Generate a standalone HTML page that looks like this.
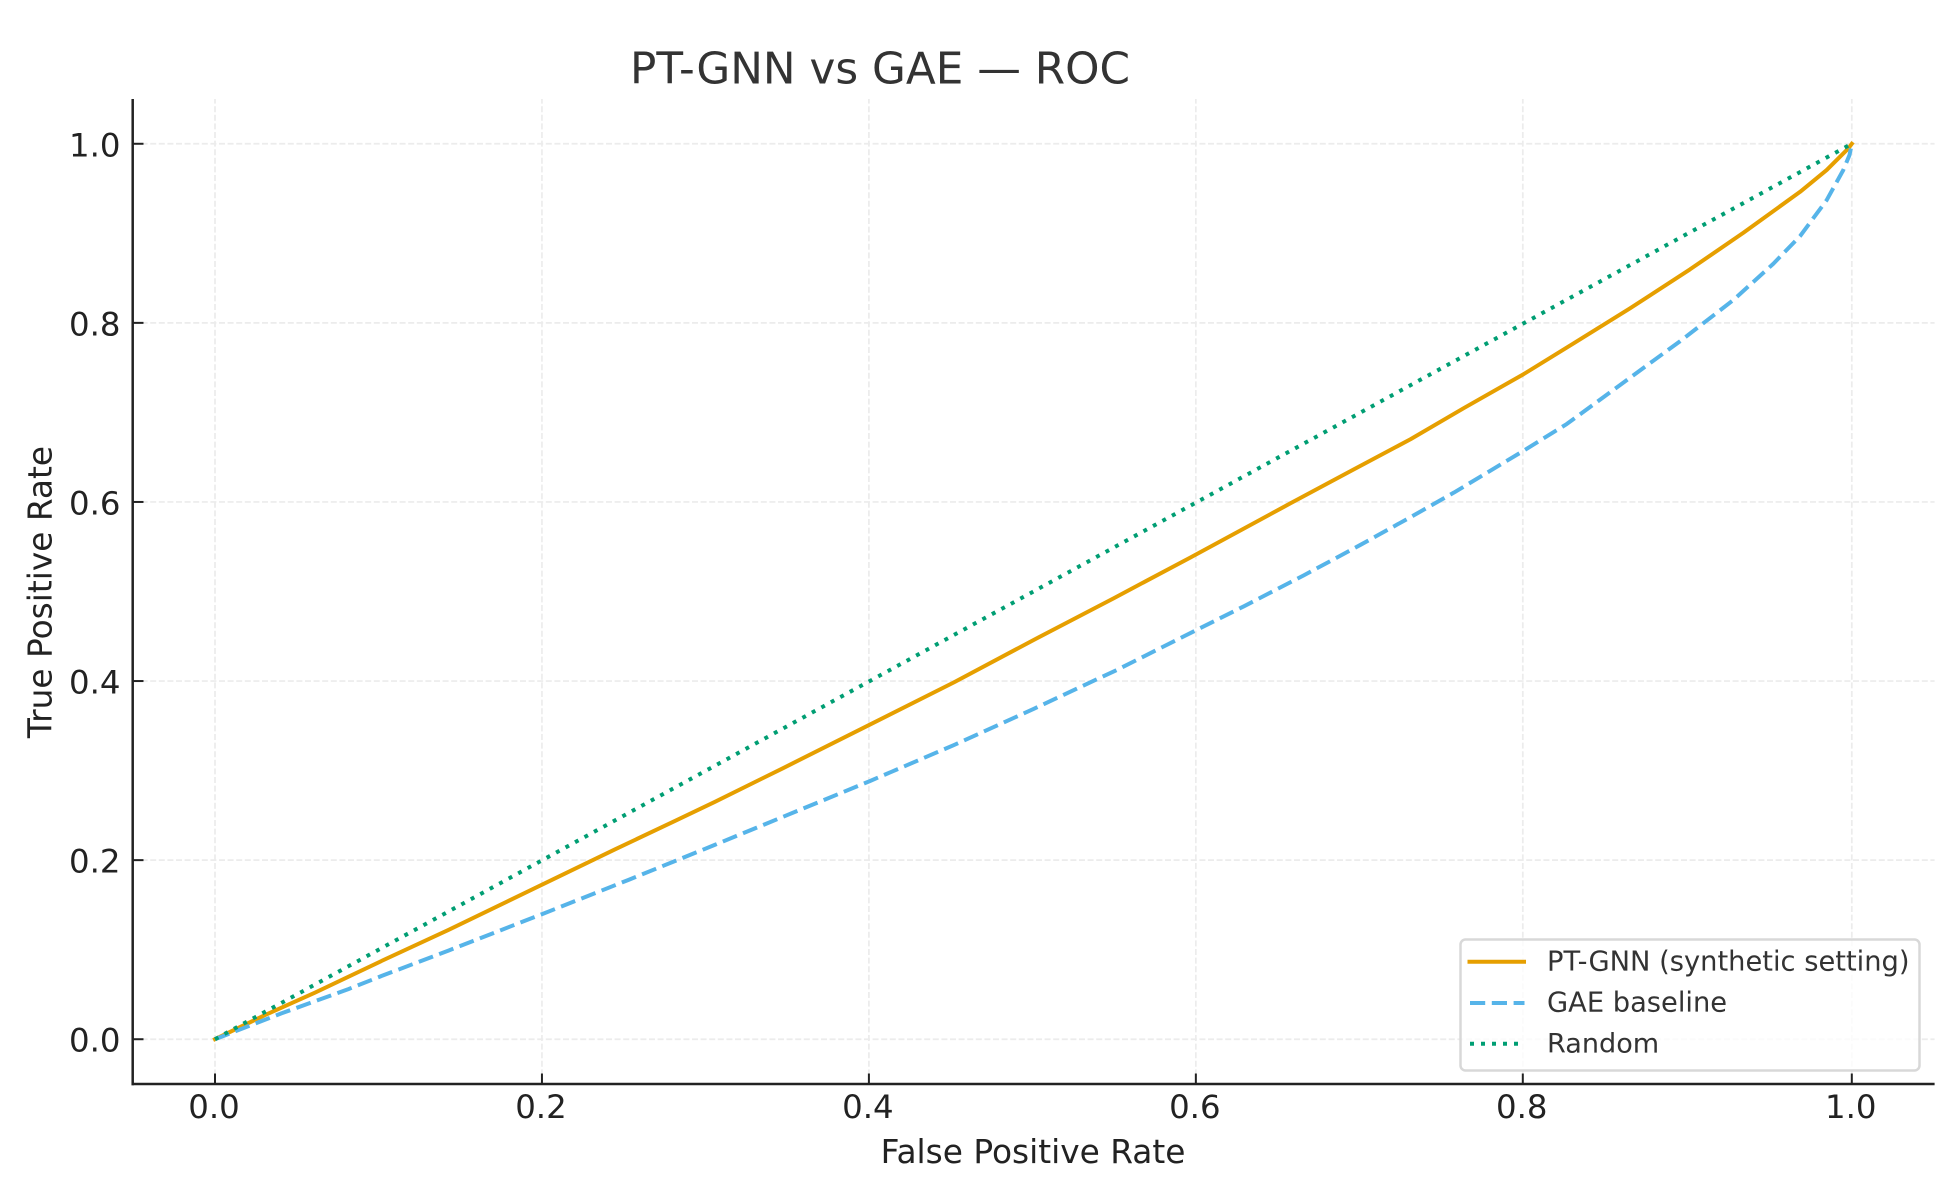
<!DOCTYPE html>
<html lang="en">
<head>
<meta charset="utf-8">
<title>PT-GNN vs GAE — ROC</title>
<style>
html,body{margin:0;padding:0;background:#fff;}
body{width:1957px;height:1193px;overflow:hidden;}
svg{display:block;}
text{font-family:"DejaVu Sans","Liberation Sans",sans-serif;}
</style>
</head>
<body>
<svg id="chart" xmlns="http://www.w3.org/2000/svg" width="1957" height="1193" viewBox="0 0 1957 1193">
  <rect x="0" y="0" width="1957" height="1193" fill="#fff"/>
  <g id="grid"></g>
  <g id="series"></g>
  <g id="axes"></g>
  <text x="630" y="83.3" font-size="43.7" fill="#333">PT-GNN vs GAE — ROC</text>
  <text x="1033" y="1163" font-size="32.8" fill="#222" text-anchor="middle">False Positive Rate</text>
  <text transform="translate(51.7 592) rotate(-90)" font-size="32.8" fill="#222" text-anchor="middle">True Positive Rate</text>
  <g>
    <rect x="1460.5" y="939.5" width="459" height="131" rx="5" ry="5" fill="#fff" fill-opacity="0.8" stroke="#d8d8d8" stroke-width="2.5"/>
    <g>
      <line x1="1469.5" y1="961.7" x2="1524" y2="961.7" stroke="#E69F00" stroke-width="4" stroke-linecap="square"/>
      <text x="1547" y="970.7" font-size="27.3" fill="#333">PT-GNN (synthetic setting)</text>
    </g>
    <g>
      <line x1="1470" y1="1003" x2="1524.5" y2="1003" stroke="#56B4E9" stroke-width="4" stroke-dasharray="15.2 6.6"/>
      <text x="1547" y="1011.7" font-size="27.3" fill="#333">GAE baseline</text>
    </g>
    <g>
      <line x1="1470" y1="1043.7" x2="1524.5" y2="1043.7" stroke="#009E73" stroke-width="4" stroke-dasharray="4 7"/>
      <text x="1547" y="1052.7" font-size="27.1" fill="#333">Random</text>
    </g>
  </g>
</svg>
<script>
const xTickValues = [0, 0.2, 0.4, 0.6, 0.8, 1.0];
const yTickValues = [0, 0.2, 0.4, 0.6, 0.8, 1.0];
const ptGnnFpr = [0, 0.0306, 0.0611, 0.102, 0.1428, 0.1784, 0.2005, 0.2446, 0.2817, 0.3057, 0.3478, 0.4002, 0.452, 0.5009, 0.5498, 0.5967, 0.6579, 0.6962, 0.7313, 0.7641, 0.8003, 0.8308, 0.8652, 0.9016, 0.9341, 0.9686, 0.9847, 0.9979, 1];
const ptGnnTpr = [0, 0.027, 0.052, 0.0875, 0.122, 0.1535, 0.173, 0.212, 0.244, 0.265, 0.303, 0.351, 0.3985, 0.446, 0.4925, 0.538, 0.5985, 0.636, 0.670, 0.705, 0.7425, 0.777, 0.8162, 0.8597, 0.9006, 0.9464, 0.9706, 0.9948, 1];
const gaeFpr = [0, 0.0408, 0.0816, 0.102, 0.1428, 0.2005, 0.253, 0.3057, 0.4002, 0.452, 0.5009, 0.5518, 0.6004, 0.6294, 0.666, 0.7006, 0.7313, 0.7579, 0.8003, 0.8267, 0.855, 0.8956, 0.9279, 0.9523, 0.9686, 0.9847, 0.9948, 0.9986, 1];
const gaeTpr = [0, 0.029, 0.056, 0.0707, 0.099, 0.14, 0.178, 0.217, 0.288, 0.3285, 0.369, 0.4125, 0.457, 0.4835, 0.518, 0.552, 0.583, 0.6105, 0.657, 0.687, 0.725, 0.7795, 0.8254, 0.866, 0.897, 0.937, 0.9706, 0.9874, 1];
const randomFpr = [0, 1];
const randomTpr = [0, 1];

const NS = 'http://www.w3.org/2000/svg';
const plotLeft = 133, plotRight = 1934.6, plotTop = 99, plotBottom = 1084;
const domainMin = -0.05, domainMax = 1.05;

// The reference's x axis has a slightly wider last tick interval.
function xScale(v) {
  if (v <= 0.8) return 215 + v * 1634.75;
  return 1522.8 + (v - 0.8) * 1645;
}
function yScale(v) {
  return plotBottom - (v - domainMin) / (domainMax - domainMin) * (plotBottom - plotTop);
}
function setAll(el, attrs) {
  Object.keys(attrs).forEach(function (k) { el.setAttribute(k, attrs[k]); });
  return el;
}

const gridGroup = document.getElementById('grid');
const seriesGroup = document.getElementById('series');
const axesGroup = document.getElementById('axes');
const gridStyle = { stroke: '#ececec', 'stroke-width': 1.7, 'stroke-dasharray': '6 2.6', fill: 'none' };

xTickValues.forEach(function (v) {
  const line = document.createElementNS(NS, 'line');
  
  
  setAll(line, gridStyle);
  setAll(line, { x1: xScale(v), x2: xScale(v), y1: plotBottom, y2: plotTop });
  gridGroup.appendChild(line);
});
yTickValues.forEach(function (v) {
  const line = document.createElementNS(NS, 'line');
  
  
  setAll(line, gridStyle);
  setAll(line, { x1: plotLeft, x2: plotRight, y1: yScale(v), y2: yScale(v) });
  gridGroup.appendChild(line);
});

function linePoints(xs, ys) {
  return xs.map(function (x, i) {
    return xScale(x).toFixed(2) + ',' + yScale(ys[i]).toFixed(2);
  }).join(' ');
}

const ptGnnLine = document.createElementNS(NS, 'polyline');


setAll(ptGnnLine, { points: linePoints(ptGnnFpr, ptGnnTpr), fill: 'none', stroke: '#E69F00', 'stroke-width': 4, 'stroke-linecap': 'square', 'stroke-linejoin': 'round' });
seriesGroup.appendChild(ptGnnLine);

const gaeLine = document.createElementNS(NS, 'polyline');


setAll(gaeLine, { points: linePoints(gaeFpr, gaeTpr), fill: 'none', stroke: '#56B4E9', 'stroke-width': 4, 'stroke-dasharray': '15.2 6.6', 'stroke-linejoin': 'round' });
seriesGroup.appendChild(gaeLine);

const randomLine = document.createElementNS(NS, 'polyline');


setAll(randomLine, { points: linePoints(randomFpr, randomTpr), fill: 'none', stroke: '#009E73', 'stroke-width': 4, 'stroke-dasharray': '3.9 6.9' });
seriesGroup.appendChild(randomLine);

const leftSpine = document.createElementNS(NS, 'line');


setAll(leftSpine, { x1: plotLeft - 0.3, x2: plotLeft - 0.3, y1: plotTop, y2: plotBottom + 1.2, stroke: '#222', 'stroke-width': 2.5 });
axesGroup.appendChild(leftSpine);

const bottomSpine = document.createElementNS(NS, 'line');


setAll(bottomSpine, { x1: plotLeft - 1.5, x2: plotRight, y1: plotBottom, y2: plotBottom, stroke: '#222', 'stroke-width': 2.5 });
axesGroup.appendChild(bottomSpine);

xTickValues.forEach(function (v) {
  const tick = document.createElementNS(NS, 'line');
  
  
  setAll(tick, { x1: xScale(v), x2: xScale(v), y1: plotBottom, y2: plotBottom - 10.5, stroke: '#222', 'stroke-width': 2 });
  axesGroup.appendChild(tick);
  const label = document.createElementNS(NS, 'text');
  
  
  setAll(label, { x: xScale(v) - 1, y: 1118.2, 'font-size': 32.4, fill: '#222', 'text-anchor': 'middle' });
  label.textContent = v.toFixed(1);
  axesGroup.appendChild(label);
});
yTickValues.forEach(function (v) {
  const tick = document.createElementNS(NS, 'line');
  
  
  setAll(tick, { x1: plotLeft, x2: plotLeft + 10.5, y1: yScale(v), y2: yScale(v), stroke: '#222', 'stroke-width': 2 });
  axesGroup.appendChild(tick);
  const label = document.createElementNS(NS, 'text');
  
  
  setAll(label, { x: 120.5, y: yScale(v) + 12.5, 'font-size': 32.4, fill: '#222', 'text-anchor': 'end' });
  label.textContent = v.toFixed(1);
  axesGroup.appendChild(label);
});
</script>
</body>
</html>
